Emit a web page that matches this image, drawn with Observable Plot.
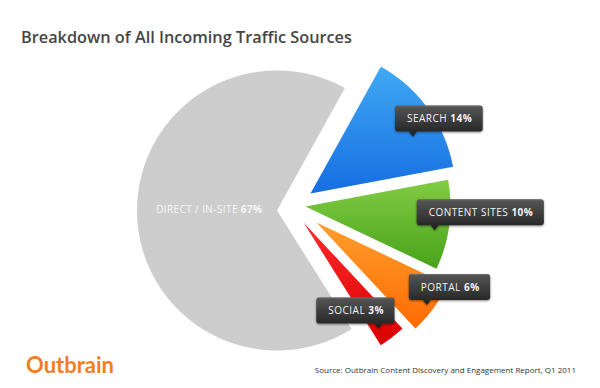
<!DOCTYPE html>
<html>
<head>
<meta charset="utf-8">
<script src="https://cdn.jsdelivr.net/npm/d3@7"></script>
<script src="https://cdn.jsdelivr.net/npm/@observablehq/plot@0.6"></script>
<style>
html,body{margin:0;padding:0;background:#fff;}
body{width:600px;height:388px;overflow:hidden;font-family:"Open Sans",sans-serif;}
#title{position:relative;height:56px;box-sizing:border-box;padding:29px 0 0 21px;font-size:16.3px;line-height:16px;color:#464646;font-weight:600;white-space:nowrap;}
#chart{height:300px;}
#chart svg{display:block;}
#footer{position:relative;height:32px;}
#logo{position:absolute;left:26px;top:-2px;font-family:Lato,sans-serif;font-weight:700;font-size:22px;line-height:22px;color:#f47d22;}
#source{position:absolute;right:24px;top:10px;font-size:8px;line-height:8px;color:#333;white-space:nowrap;}
</style>
</head>
<body>
<div id="title">Breakdown of All Incoming Traffic Sources</div>
<div id="chart"></div>
<div id="footer"><span id="logo">Outbrain</span><span id="source">Source: Outbrain Content Discovery and Engagement Report, Q1 2011</span></div>
<script>
// ---- data ----
const categories = ["Direct / In-Site", "Search", "Content Sites", "Portal", "Social"];
const shares = [67, 14, 10, 6, 3];
const labelNames = ["DIRECT / IN-SITE", "SEARCH", "CONTENT SITES", "PORTAL", "SOCIAL"];
const labelPercents = ["67%", "14%", "10%", "6%", "3%"];

// ---- layout & style (not data) ----
const drawOrder = [1, 2, 3, 4, 0];   // clockwise order
const startAngle = 29;               // degrees clockwise from north
const layout = [
  {dx: 0,    dy: 0,   r: 140, lr: 0.48, lf: 0.5,  side: "inside"},
  {dx: 33.5, dy: -17, r: 145, lr: 0.81, lf: 0.64, side: "left"},
  {dx: 28.5, dy: -4,  r: 145, lr: 0.91, lf: 0.59, side: "left"},
  {dx: 39.5, dy: 12,  r: 145, lr: 0.955, lf: 0.53, side: "left"},
  {dx: 26.5, dy: 12,  r: 145, lr: 0.90, lf: 0.71, side: "right"}
];
const gradients = [
  ["#cdcdcd", "#cdcdcd"],
  ["#40a9f4", "#166de1"],
  ["#82cb45", "#48a31a"],
  ["#ff9f2c", "#ff6a04"],
  ["#ff2b2b", "#d80000"]
];

const total = d3.sum(shares);
let acc = startAngle;
const slices = drawOrder.map(i => {
  const span = shares[i] / total * 360;
  const s = {i, a0: acc, a1: acc + span};
  acc += span;
  return s;
});
const rad = a => a * Math.PI / 180;
const polar = (L, a, r) => ({x: L.dx + r * Math.sin(rad(a)), y: L.dy - r * Math.cos(rad(a))});

const sliceMarks = slices.map(s => {
  const L = layout[s.i];
  const pts = [{x: L.dx, y: L.dy, key: categories[s.i]}];
  const n = Math.max(10, Math.ceil((s.a1 - s.a0) * 2));
  for (let k = 0; k <= n; k++) pts.push({...polar(L, s.a0 + (s.a1 - s.a0) * k / n, L.r), key: categories[s.i]});
  return Plot.line(pts, {x: "x", y: "y", fill: `url(#slice-grad-${s.i})`, stroke: "none", curve: "linear-closed"});
});

const labels = slices.map(s => {
  const L = layout[s.i];
  const a = s.a0 + (s.a1 - s.a0) * L.lf;
  return {...polar(L, a, L.r * L.lr), name: labelNames[s.i], pct: labelPercents[s.i], side: L.side};
});

const defsMark = () => {
  const defs = d3.create("svg:defs");
  gradients.forEach(([c0, c1], i) => {
    const g = defs.append("linearGradient").attr("id", `slice-grad-${i}`)
      .attr("x1", 0).attr("y1", 0).attr("x2", 0).attr("y2", 1);
    g.append("stop").attr("offset", 0).attr("stop-color", c0);
    g.append("stop").attr("offset", 1).attr("stop-color", c1);
  });
  const b = defs.append("linearGradient").attr("id", "box-grad")
    .attr("x1", 0).attr("y1", 0).attr("x2", 0).attr("y2", 1);
  b.append("stop").attr("offset", 0).attr("stop-color", "#565656");
  b.append("stop").attr("offset", 1).attr("stop-color", "#1f1f1f");
  const f = defs.append("filter").attr("id", "box-shadow")
    .attr("x", "-20%").attr("y", "-30%").attr("width", "140%").attr("height", "170%");
  f.append("feDropShadow").attr("dx", 0).attr("dy", 1).attr("stdDeviation", 1)
    .attr("flood-color", "#000").attr("flood-opacity", 0.45);
  return defs.node();
};

const ctx2 = document.createElement("canvas").getContext("2d");
const FS = 10, LS = 0.5;
function tw(str, weight) {
  ctx2.font = `${weight} ${FS}px "Open Sans"`;
  return ctx2.measureText(str).width + LS * str.length;
}

const labelMark = Plot.dot(labels, {
  x: "x", y: "y", r: 0,
  render: (index, scales, values) => {
    const g = d3.create("svg:g").attr("font-family", "'Open Sans', sans-serif").attr("font-size", FS)
      .attr("letter-spacing", LS).attr("text-anchor", "start");
    for (const i of index) {
      const d = labels[i];
      const px = values.x[i], py = values.y[i];
      if (d.side === "inside") {
        const t = g.append("text").attr("x", px).attr("y", py + 1.6).attr("text-anchor", "middle")
          .attr("fill", "#f7f7f7").attr("letter-spacing", 0.4);
        t.append("tspan").attr("font-weight", 400).text(d.name + " ");
        t.append("tspan").attr("font-weight", 700).text(d.pct);
        continue;
      }
      const w = tw(d.name + " ", 400) + tw(d.pct, 700) - LS + 23;
      const h = 26, ph = 5, pw = 4, rr = 3;
      const B = py - ph, T = B - h;
      const L = d.side === "left" ? px - 18 : px - (w - 16);
      const R = L + w;
      const path = `M${L + rr},${T}H${R - rr}Q${R},${T} ${R},${T + rr}V${B - rr}Q${R},${B} ${R - rr},${B}` +
        `H${px + pw}L${px},${B + ph}L${px - pw},${B}H${L + rr}Q${L},${B} ${L},${B - rr}V${T + rr}Q${L},${T} ${L + rr},${T}Z`;
      g.append("path").attr("d", path).attr("fill", "url(#box-grad)").attr("filter", "url(#box-shadow)");
      g.append("line").attr("x1", L + rr).attr("x2", R - rr).attr("y1", T + 0.5).attr("y2", T + 0.5)
        .attr("stroke", "#7a7a7a").attr("stroke-width", 1).attr("stroke-opacity", 0.6);
      const t = g.append("text").attr("x", L + 12).attr("y", T + 16.8).attr("fill", "#f2f2f2").attr("text-anchor", "start");
      t.append("tspan").attr("font-weight", 400).text(d.name + " ");
      t.append("tspan").attr("font-weight", 700).text(d.pct);
    }
    return g.node();
  }
});

const chart = Plot.plot({
  width: 600,
  height: 300,
  margin: 0,
  x: {domain: [-276.5, 323.5], range: [0, 600], axis: null},
  y: {domain: [-154, 146], range: [0, 300], axis: null},
  style: {background: "#fff", overflow: "visible"},
  marks: [defsMark, ...sliceMarks, labelMark]
});
document.getElementById("chart").append(chart);
</script>
</body>
</html>
